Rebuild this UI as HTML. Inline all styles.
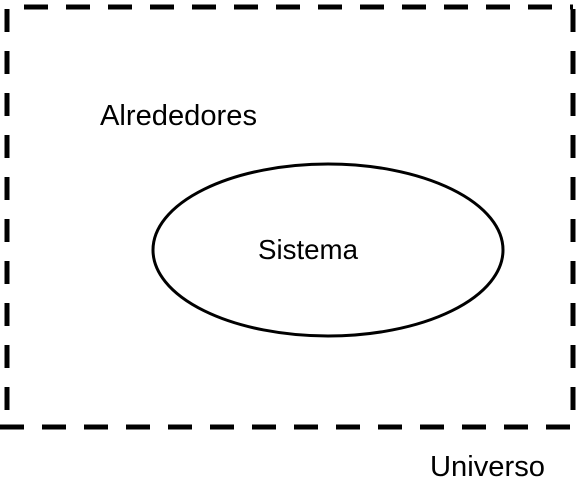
<!DOCTYPE html>
<html><head><style>html,body{margin:0;padding:0;background:#fff}svg{display:block}</style></head>
<body>
<svg width="581" height="479" xmlns="http://www.w3.org/2000/svg" font-family="Liberation Sans, sans-serif">
<g stroke="#000" stroke-width="5" fill="none">
<line x1="24" y1="7" x2="573" y2="7" stroke-dasharray="24 18"/>
<line x1="7" y1="9" x2="7" y2="427" stroke-dasharray="23 19"/>
<line x1="573" y1="9" x2="573" y2="427" stroke-dasharray="23 19"/>
<line x1="0" y1="427" x2="576" y2="427" stroke-dasharray="24 18"/>
<ellipse cx="328" cy="250" rx="175" ry="86" stroke-width="3"/>
</g>
<text x="100" y="125" font-size="29" textLength="157" lengthAdjust="spacingAndGlyphs">Alrededores</text>
<text x="258" y="259" font-size="28" textLength="100" lengthAdjust="spacingAndGlyphs">Sistema</text>
<text x="430" y="476" font-size="29" textLength="115" lengthAdjust="spacingAndGlyphs">Universo</text>
</svg>
</body></html>
